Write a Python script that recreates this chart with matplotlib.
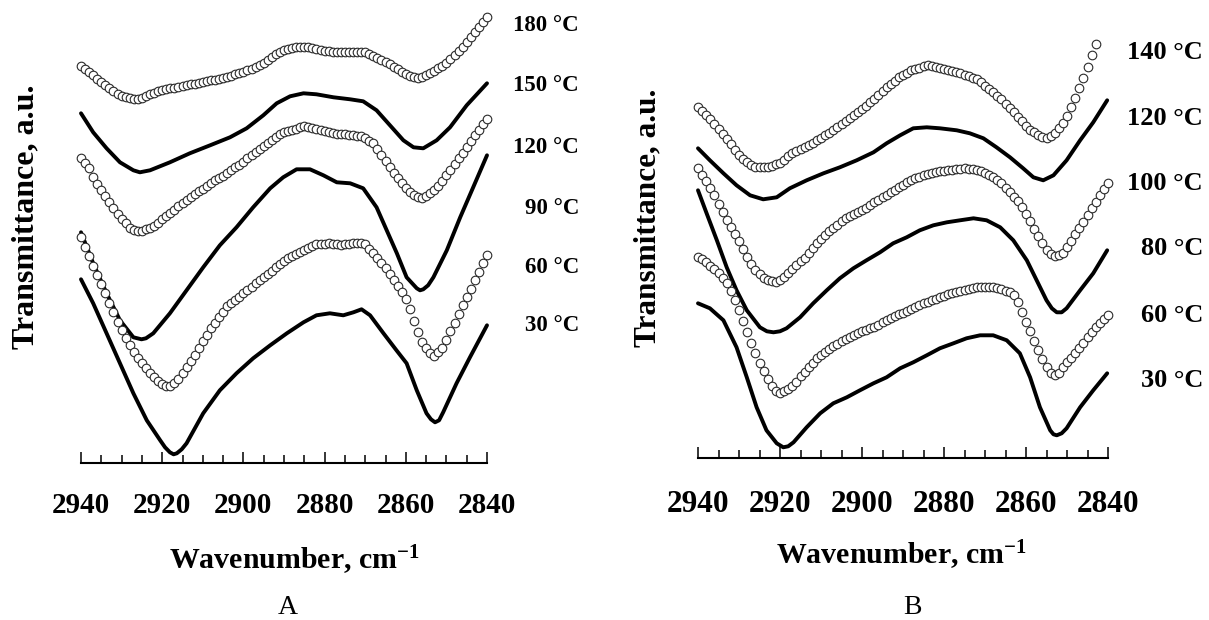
import numpy as np
import matplotlib.pyplot as plt

plt.rcParams['font.family'] = ['Liberation Serif', 'DejaVu Serif']
plt.rcParams['font.weight'] = 'bold'
plt.rcParams['mathtext.fontset'] = 'custom'
plt.rcParams['mathtext.rm'] = 'Liberation Serif:bold'
plt.rcParams['mathtext.it'] = 'Liberation Serif:bold'
plt.rcParams['mathtext.bf'] = 'Liberation Serif:bold'

# ---------------- Panel A data (transmittance, a.u., offset-stacked) ----------------
wn_a = np.arange(2940, 2839, -1)  # 1 cm-1 sampling for the open-circle spectra

t_a180 = [39.7, 39.4, 39.1, 38.8, 38.4, 38.1, 37.8, 37.5, 37.2, 36.9,
          36.7, 36.6, 36.5, 36.4, 36.4, 36.5, 36.7, 36.9, 37.0, 37.2,
          37.3, 37.4, 37.5, 37.5, 37.6, 37.7, 37.8, 37.9, 37.9, 38.0,
          38.1, 38.2, 38.3, 38.3, 38.4, 38.5, 38.6, 38.7, 38.9, 39.0,
          39.1, 39.3, 39.4, 39.6, 39.8, 40.0, 40.3, 40.6, 40.9, 41.1,
          41.3, 41.4, 41.5, 41.6, 41.6, 41.6, 41.6, 41.5, 41.4, 41.3,
          41.2, 41.2, 41.1, 41.1, 41.1, 41.1, 41.1, 41.1, 41.1, 41.1,
          41.1, 40.9, 40.7, 40.5, 40.3, 40.1, 39.9, 39.6, 39.4, 39.1,
          38.9, 38.7, 38.6, 38.5, 38.6, 38.8, 39.0, 39.2, 39.5, 39.7,
          40.0, 40.4, 40.8, 41.2, 41.6, 42.1, 42.6, 43.1, 43.6, 44.1,
          44.6]

t_a120 = [30.5, 30.0, 29.5, 28.6, 27.9, 27.3, 26.7, 26.1, 25.5, 24.9,
          24.4, 24.0, 23.5, 23.3, 23.2, 23.2, 23.4, 23.5, 23.7, 24.0,
          24.4, 24.7, 25.0, 25.3, 25.7, 26.0, 26.3, 26.6, 26.9, 27.2,
          27.4, 27.7, 28.0, 28.3, 28.5, 28.7, 29.0, 29.3, 29.6, 29.8,
          30.1, 30.5, 30.8, 31.1, 31.4, 31.7, 32.0, 32.3, 32.6, 32.9,
          33.1, 33.2, 33.3, 33.4, 33.6, 33.7, 33.6, 33.5, 33.4, 33.3,
          33.2, 33.1, 33.0, 32.9, 32.9, 32.9, 32.8, 32.8, 32.7, 32.7,
          32.5, 32.2, 32.0, 31.4, 30.8, 30.2, 29.6, 29.0, 28.5, 28.0,
          27.5, 27.1, 26.8, 26.6, 26.5, 26.7, 27.0, 27.3, 27.7, 28.2,
          28.8, 29.3, 29.9, 30.5, 31.0, 31.6, 32.2, 32.8, 33.3, 33.9,
          34.4]

t_a60 = [22.6, 21.6, 20.7, 19.7, 18.8, 17.9, 17.0, 16.0, 15.1, 14.1,
         13.3, 12.5, 11.8, 11.1, 10.5, 10.0, 9.5, 9.0, 8.6, 8.2,
         7.9, 7.7, 7.7, 8.0, 8.4, 9.0, 9.6, 10.2, 10.8, 11.5,
         12.2, 12.8, 13.5, 14.0, 14.6, 15.1, 15.7, 16.0, 16.3, 16.6,
         17.0, 17.3, 17.6, 18.0, 18.3, 18.6, 18.9, 19.2, 19.6, 19.9,
         20.2, 20.5, 20.7, 20.9, 21.1, 21.3, 21.5, 21.7, 21.9, 21.9,
         21.9, 22.0, 21.9, 21.9, 21.8, 21.9, 21.9, 22.0, 22.0, 22.0,
         21.9, 21.4, 21.0, 20.5, 20.0, 19.5, 18.9, 18.3, 17.7, 17.1,
         16.4, 15.4, 14.2, 13.1, 12.1, 11.5, 11.0, 10.7, 11.1, 11.5,
         12.3, 13.2, 14.0, 14.9, 15.8, 16.6, 17.4, 18.3, 19.1, 20.0,
         20.8]

wn_a150 = [2940.0, 2937.0, 2933.7, 2930.4, 2927.1, 2925.5, 2923.0, 2918.1, 2913.2, 2908.2,
           2903.3, 2899.2, 2895.1, 2891.8, 2888.5, 2885.2, 2882.0, 2877.8, 2873.7, 2870.5,
           2867.2, 2863.9, 2860.6, 2858.1, 2855.7, 2852.4, 2849.1, 2845.0, 2840.0]
t_a150 = [35.0, 33.1, 31.5, 30.1, 29.3, 29.1, 29.3, 30.1, 31.0, 31.8,
          32.6, 33.5, 34.8, 36.0, 36.7, 37.0, 36.9, 36.6, 36.4, 36.2,
          35.3, 33.8, 32.3, 31.6, 31.5, 32.3, 33.6, 35.8, 38.0]

wn_a90 = [2940.0, 2937.0, 2933.7, 2930.4, 2927.1, 2925.1, 2924.0, 2922.2, 2918.1, 2914.0,
          2909.9, 2905.8, 2901.7, 2897.6, 2893.4, 2890.2, 2886.9, 2883.6, 2880.3, 2877.0,
          2873.7, 2870.5, 2867.2, 2864.7, 2862.2, 2859.8, 2857.3, 2856.5, 2855.7, 2854.5,
          2853.2, 2849.9, 2846.6, 2843.4, 2840.0]
t_a90 = [23.1, 20.0, 17.0, 14.3, 12.6, 12.4, 12.5, 13.0, 15.0, 17.3,
         19.6, 21.8, 23.6, 25.6, 27.5, 28.6, 29.4, 29.4, 28.8, 28.1,
         28.0, 27.5, 25.6, 23.3, 21.0, 18.6, 17.5, 17.3, 17.4, 17.8,
         18.6, 21.3, 24.6, 27.6, 30.8]

wn_a30 = [2940.0, 2937.0, 2933.7, 2930.4, 2927.1, 2923.8, 2920.5, 2919.3, 2918.1, 2917.2,
          2916.4, 2915.2, 2914.0, 2909.9, 2905.8, 2901.7, 2897.6, 2893.4, 2889.3, 2885.2,
          2882.0, 2878.7, 2875.4, 2872.9, 2870.9, 2868.8, 2865.5, 2862.3, 2859.8, 2857.3,
          2854.9, 2853.8, 2852.8, 2851.8, 2850.8, 2847.5, 2844.2, 2840.0]
t_a30 = [18.4, 16.0, 13.0, 10.0, 7.0, 4.3, 2.3, 1.6, 1.1, 0.9,
         1.0, 1.4, 2.0, 5.0, 7.3, 9.0, 10.5, 11.8, 13.0, 14.1,
         14.8, 15.0, 14.8, 15.1, 15.4, 14.8, 13.0, 11.3, 10.0, 7.3,
         5.0, 4.4, 4.1, 4.3, 5.1, 8.0, 10.6, 13.8]

# ---------------- Panel B data ----------------
wn_b = np.arange(2940, 2839, -1)
wn_b140 = np.arange(2940, 2842, -1)

t_b140 = [35.1, 34.7, 34.3, 33.9, 33.4, 32.9, 32.4, 31.9, 31.4, 30.8,
          30.3, 29.9, 29.6, 29.3, 29.1, 29.1, 29.1, 29.1, 29.2, 29.4,
          29.5, 29.8, 30.2, 30.5, 30.7, 30.9, 31.1, 31.3, 31.5, 31.8,
          32.0, 32.3, 32.5, 32.8, 33.1, 33.4, 33.7, 34.0, 34.3, 34.6,
          34.9, 35.2, 35.6, 35.9, 36.3, 36.7, 37.1, 37.4, 37.7, 38.1,
          38.3, 38.5, 38.8, 38.9, 39.0, 39.2, 39.3, 39.2, 39.1, 39.0,
          38.9, 38.8, 38.7, 38.6, 38.5, 38.3, 38.2, 38.0, 37.9, 37.6,
          37.2, 36.9, 36.6, 36.2, 35.9, 35.4, 35.0, 34.6, 34.1, 33.7,
          33.2, 32.8, 32.6, 32.3, 32.1, 32.0, 32.2, 32.5, 33.0, 33.5,
          34.2, 35.1, 36.0, 37.0, 38.0, 39.1, 40.3, 41.4]

t_b100 = [29.0, 28.3, 27.7, 27.0, 26.3, 25.4, 24.6, 23.8, 23.1, 22.4,
          21.7, 20.9, 20.1, 19.4, 18.8, 18.4, 18.0, 17.8, 17.7, 17.6,
          17.8, 18.1, 18.5, 18.9, 19.3, 19.7, 20.0, 20.5, 21.0, 21.5,
          21.9, 22.3, 22.7, 23.0, 23.3, 23.7, 24.0, 24.2, 24.4, 24.6,
          24.8, 25.0, 25.3, 25.6, 25.8, 26.1, 26.3, 26.6, 26.8, 27.1,
          27.3, 27.6, 27.8, 28.0, 28.1, 28.3, 28.4, 28.5, 28.6, 28.7,
          28.7, 28.8, 28.8, 28.9, 28.9, 29.0, 28.9, 28.9, 28.8, 28.7,
          28.5, 28.3, 28.1, 27.8, 27.5, 27.0, 26.6, 26.1, 25.7, 25.1,
          24.4, 23.7, 22.9, 22.2, 21.5, 20.8, 20.4, 20.2, 20.3, 20.5,
          21.1, 21.7, 22.4, 23.0, 23.6, 24.3, 25.0, 25.6, 26.3, 26.9,
          27.5]

t_b60 = [20.1, 19.9, 19.6, 19.2, 18.9, 18.5, 18.0, 17.5, 16.7, 15.8,
         14.8, 13.7, 12.6, 11.5, 10.5, 9.5, 8.7, 7.9, 7.2, 6.7,
         6.5, 6.7, 6.9, 7.2, 7.6, 8.2, 8.6, 9.1, 9.5, 10.0,
         10.3, 10.6, 10.9, 11.2, 11.4, 11.7, 11.9, 12.1, 12.3, 12.5,
         12.7, 12.8, 13.0, 13.1, 13.3, 13.6, 13.8, 14.0, 14.2, 14.4,
         14.5, 14.7, 14.9, 15.1, 15.3, 15.5, 15.6, 15.8, 15.9, 16.1,
         16.2, 16.4, 16.5, 16.6, 16.7, 16.8, 16.9, 17.0, 17.1, 17.1,
         17.1, 17.1, 17.1, 17.0, 16.9, 16.7, 16.6, 16.3, 15.6, 14.6,
         13.6, 12.7, 11.7, 10.8, 9.9, 9.1, 8.5, 8.3, 8.5, 9.1,
         9.6, 10.0, 10.5, 11.0, 11.5, 12.1, 12.6, 13.1, 13.5, 13.9,
         14.3]

wn_b120 = [2940.0, 2937.1, 2933.8, 2930.6, 2927.3, 2924.1, 2920.8, 2917.6, 2913.5, 2909.4,
           2905.4, 2901.3, 2897.2, 2894.0, 2890.7, 2887.5, 2884.2, 2881.0, 2876.9, 2873.7,
           2870.4, 2867.2, 2863.9, 2860.7, 2858.2, 2855.8, 2853.3, 2850.1, 2846.8, 2843.6,
           2840.2]
t_b120 = [31.0, 29.8, 28.5, 27.3, 26.3, 25.9, 26.1, 27.0, 27.8, 28.5,
          29.1, 29.8, 30.6, 31.5, 32.3, 33.0, 33.1, 33.0, 32.8, 32.5,
          32.0, 31.1, 30.1, 29.0, 28.1, 27.8, 28.3, 29.8, 31.8, 33.6,
          35.8]

wn_b80 = [2940.0, 2937.9, 2935.4, 2933.0, 2930.6, 2928.1, 2924.9, 2923.2, 2921.6, 2920.0,
          2918.4, 2915.1, 2911.9, 2908.6, 2905.4, 2902.1, 2898.9, 2895.6, 2892.4, 2889.1,
          2885.9, 2882.6, 2879.3, 2876.1, 2872.8, 2869.6, 2866.3, 2863.1, 2859.8, 2857.4,
          2855.0, 2853.7, 2852.5, 2851.3, 2850.1, 2846.8, 2843.6, 2840.2]
t_b80 = [26.8, 24.5, 21.8, 19.1, 16.8, 14.8, 13.1, 12.7, 12.6, 12.7,
         13.0, 14.1, 15.5, 16.8, 18.0, 19.0, 19.8, 20.6, 21.5, 22.1,
         22.8, 23.3, 23.6, 23.8, 24.0, 23.8, 23.1, 21.8, 19.8, 17.8,
         15.8, 15.0, 14.6, 14.6, 15.0, 16.8, 18.5, 20.8]

wn_b30 = [2940.0, 2937.1, 2933.8, 2930.6, 2928.1, 2925.7, 2923.3, 2920.8, 2919.2, 2918.0,
          2916.7, 2913.5, 2910.2, 2907.0, 2903.7, 2900.5, 2897.2, 2894.0, 2890.7, 2887.5,
          2884.2, 2881.0, 2877.7, 2874.5, 2871.2, 2868.0, 2864.7, 2861.5, 2859.0, 2856.6,
          2854.1, 2853.3, 2852.5, 2851.3, 2850.1, 2846.8, 2843.6, 2840.2]
t_b30 = [15.5, 15.0, 13.8, 11.1, 8.1, 5.1, 2.8, 1.5, 1.1, 1.2,
         1.6, 3.1, 4.5, 5.5, 6.1, 6.8, 7.5, 8.1, 9.0, 9.6,
         10.3, 11.0, 11.5, 12.0, 12.3, 12.3, 11.8, 10.5, 8.1, 5.1,
         2.8, 2.4, 2.3, 2.5, 3.0, 5.1, 6.8, 8.5]

labels_a = ['180 °C', '150 °C', '120 °C', '90 °C', '60 °C', '30 °C']
labels_b = ['140 °C', '120 °C', '100 °C', '80 °C', '60 °C', '30 °C']
xticks = [2940, 2920, 2900, 2880, 2860, 2840]

W, H = 1209, 620
fig = plt.figure(figsize=(W / 100, H / 100), dpi=100)

axA = fig.add_axes([81 / W, (H - 463.3) / H, 406 / W, 463.3 / H])
axB = fig.add_axes([698 / W, (H - 458.3) / H, 410 / W, 458.3 / H])

circ = dict(marker='o', ms=6.2, mfc='white', mec='#2a2a2a', mew=0.8, ls='none', clip_on=False)
line = dict(color='black', lw=2.8, solid_joinstyle='round', solid_capstyle='round', clip_on=False)

# panel A
axA.plot(wn_a, t_a180, **circ)
axA.plot(wn_a150, t_a150, **line)
axA.plot(wn_a, t_a120, **circ)
axA.plot(wn_a90, t_a90, **line)
axA.plot(wn_a, t_a60, **circ)
axA.plot(wn_a30, t_a30, **line)
axA.set_ylim(0, 46.33)

# panel B
axB.plot(wn_b140, t_b140, **circ)
axB.plot(wn_b120, t_b120, **line)
axB.plot(wn_b, t_b100, **circ)
axB.plot(wn_b80, t_b80, **line)
axB.plot(wn_b, t_b60, **circ)
axB.plot(wn_b30, t_b30, **line)
axB.set_ylim(0, 45.83)

for ax, fs, pad in [(axA, 21, 21), (axB, 22.5, 23)]:
    ax.set_xlim(2940, 2840)
    ax.set_xticks(xticks)
    ax.set_xticks(np.arange(2940, 2839, -5), minor=True)
    ax.tick_params(axis='x', which='major', direction='in', length=8, width=1.1,
                   labelsize=fs, pad=pad)
    ax.tick_params(axis='x', which='minor', direction='in', length=6, width=1.1)
    ax.set_yticks([])
    for s in ['left', 'right', 'top']:
        ax.spines[s].set_visible(False)
    ax.spines['bottom'].set_linewidth(1.5)
    for lab in ax.get_xticklabels():
        lab.set_fontweight('bold')

# temperature labels (x in axes fraction, y in data units)
ya = [43.8, 37.8, 31.6, 25.5, 19.6, 13.8]
for lab, y in zip(labels_a, ya):
    axA.text(1.2266, y, lab, transform=axA.get_yaxis_transform(), ha='right', va='center',
             fontsize=16.5, fontweight='bold')
yb = [40.6, 34.0, 27.5, 21.0, 14.3, 7.8]
for lab, y in zip(labels_b, yb):
    axB.text(1.2317, y, lab, transform=axB.get_yaxis_transform(), ha='right', va='center',
             fontsize=19, fontweight='bold')

fig.text(26 / W, 1 - 217 / H, 'Transmittance, a.u.', rotation=90, ha='center', va='center',
         fontsize=23, fontweight='bold')
fig.text(648 / W, 1 - 218 / H, 'Transmittance, a.u.', rotation=90, ha='center', va='center',
         fontsize=22.5, fontweight='bold')
fig.text(294 / W, 1 - 560 / H, r'Wavenumber, cm$^{-1}$', ha='center', va='center',
         fontsize=21.5, fontweight='bold')
fig.text(901 / W, 1 - 555 / H, r'Wavenumber, cm$^{-1}$', ha='center', va='center',
         fontsize=21.5, fontweight='bold')
fig.text(288 / W, 1 - 607 / H, 'A', ha='center', va='center', fontsize=20, fontweight='normal')
fig.text(912 / W, 1 - 608 / H, 'B', ha='center', va='center', fontsize=20, fontweight='normal')

fig.savefig('out.png', dpi=100)
